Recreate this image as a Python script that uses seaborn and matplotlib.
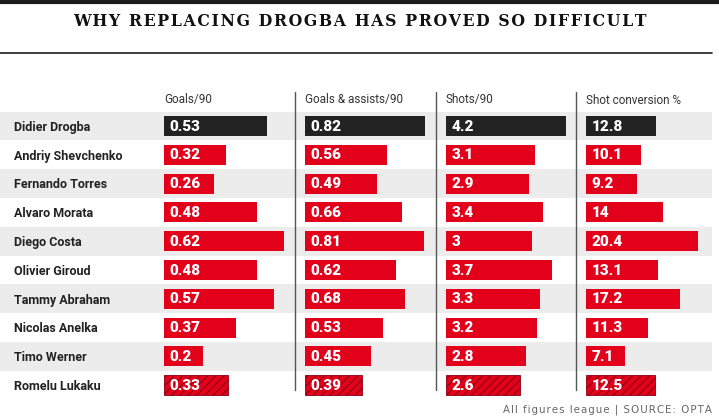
import matplotlib
matplotlib.use("Agg")
import matplotlib.pyplot as plt
import seaborn as sns
import pandas as pd

sns.set_theme(style="white")
plt.rcParams['font.family'] = ['Roboto', 'DejaVu Sans']
plt.rcParams['hatch.linewidth'] = 0.8

players = ["Didier Drogba", "Andriy Shevchenko", "Fernando Torres", "Alvaro Morata",
           "Diego Costa", "Olivier Giroud", "Tammy Abraham", "Nicolas Anelka",
           "Timo Werner", "Romelu Lukaku"]
metrics = ["Goals/90", "Goals & assists/90", "Shots/90", "Shot conversion %"]
goals = [0.53, 0.32, 0.26, 0.48, 0.62, 0.48, 0.57, 0.37, 0.2, 0.33]
goals_assists = [0.82, 0.56, 0.49, 0.66, 0.81, 0.62, 0.68, 0.53, 0.45, 0.39]
shots = [4.2, 3.1, 2.9, 3.4, 3.0, 3.7, 3.3, 3.2, 2.8, 2.6]
conversion = [12.8, 10.1, 9.2, 14.0, 20.4, 13.1, 17.2, 11.3, 7.1, 12.5]
labels = [
    ["0.53", "0.32", "0.26", "0.48", "0.62", "0.48", "0.57", "0.37", "0.2", "0.33"],
    ["0.82", "0.56", "0.49", "0.66", "0.81", "0.62", "0.68", "0.53", "0.45", "0.39"],
    ["4.2", "3.1", "2.9", "3.4", "3", "3.7", "3.3", "3.2", "2.8", "2.6"],
    ["12.8", "10.1", "9.2", "14", "20.4", "13.1", "17.2", "11.3", "7.1", "12.5"],
]
series = [goals, goals_assists, shots, conversion]

RED = "#e2001a"
BLACK = "#222222"
palette = {p: RED for p in players}
palette["Didier Drogba"] = BLACK

W, H = 719, 420
fig = plt.figure(figsize=(W / 100, H / 100), dpi=100)

def rect(x0, y0, x1, y1):
    return [x0 / W, 1 - y1 / H, (x1 - x0) / W, (y1 - y0) / H]

# Background axes in pixel coordinates
bg = fig.add_axes([0, 0, 1, 1], zorder=0)
bg.set_xlim(0, W)
bg.set_ylim(H, 0)
bg.axis("off")
bg.axhline(1.5, color="#1c1c1c", lw=3)
bg.plot([0, 712], [53, 53], color="#1c1c1c", lw=1.2)
title = "WHY REPLACING DROGBA HAS PROVED SO DIFFICULT"
bg.text(360, 21, "\u200a".join(title), ha="center", va="center", fontsize=11.3,
        fontweight="bold", family=["DejaVu Serif"], color="#111111")
footer = "All figures league | SOURCE: OPTA"
bg.text(712, 410, "\u200a".join(footer), ha="right", va="center",
        fontsize=7.4, color="#666666", family=["DejaVu Sans"])

# Row bands and names
top, bottom = 111.6, 399.6
rows = fig.add_axes(rect(0, top, 712, bottom), zorder=1)
rows.set_xlim(0, 712)
rows.set_ylim(len(players) - 0.5, -0.5)
rows.axis("off")
for i, p in enumerate(players):
    if i % 2 == 0:
        rows.axhspan(i - 0.5, i + 0.5, color="#ececec", lw=0)
    rows.annotate(p, xy=(14, i), xytext=(0, -1), textcoords="offset points",
                  ha="left", va="center", fontsize=9, fontweight="bold",
                  color="#222222")

# Overlay for separators
ov = fig.add_axes([0, 0, 1, 1], zorder=3)
ov.set_xlim(0, W)
ov.set_ylim(H, 0)
ov.axis("off")
ov.patch.set_alpha(0)
seps = [295, 436, 576]
for sx in seps:
    ov.plot([sx, sx], [92, 390], color="#555555", lw=1)

# Column layout (pixels)
cols = [(164, 284, 0.62), (305, 425, 0.82), (446, 566, 4.2), (586, 698, 20.4)]

for k, (x0, x1, vmax) in enumerate(cols):
    ov.text(x0, 100, metrics[k], ha="left", va="center", fontsize=8.5, color="#333333")
    ax = fig.add_axes(rect(x0, top, x1, bottom), zorder=2)
    ax.patch.set_alpha(0)
    df = pd.DataFrame({"player": players, "value": series[k]})
    sns.barplot(data=df, x="value", y="player", hue="player", palette=palette,
                orient="h", width=0.7, legend=False, ax=ax, saturation=1,
                edgecolor="none")
    ax.set_xlim(0, vmax)
    ax.set_ylim(len(players) - 0.5, -0.5)
    ax.axis("off")
    for bar_container in ax.containers:
        for patch in bar_container:
            yc = patch.get_y() + patch.get_height() / 2
            idx = int(round(yc))
            if players[idx] == "Romelu Lukaku":
                patch.set_hatch("////")
                patch.set_edgecolor("#8a0012")
                patch.set_linewidth(0.6)
    for i, v in enumerate(series[k]):
        ax.annotate(labels[k][i], xy=(0, i), xytext=(3.8, -0.5), textcoords="offset points",
                    ha="left", va="center", color="white", fontsize=11,
                    fontweight="black")

fig.savefig("out.png", dpi=100)
